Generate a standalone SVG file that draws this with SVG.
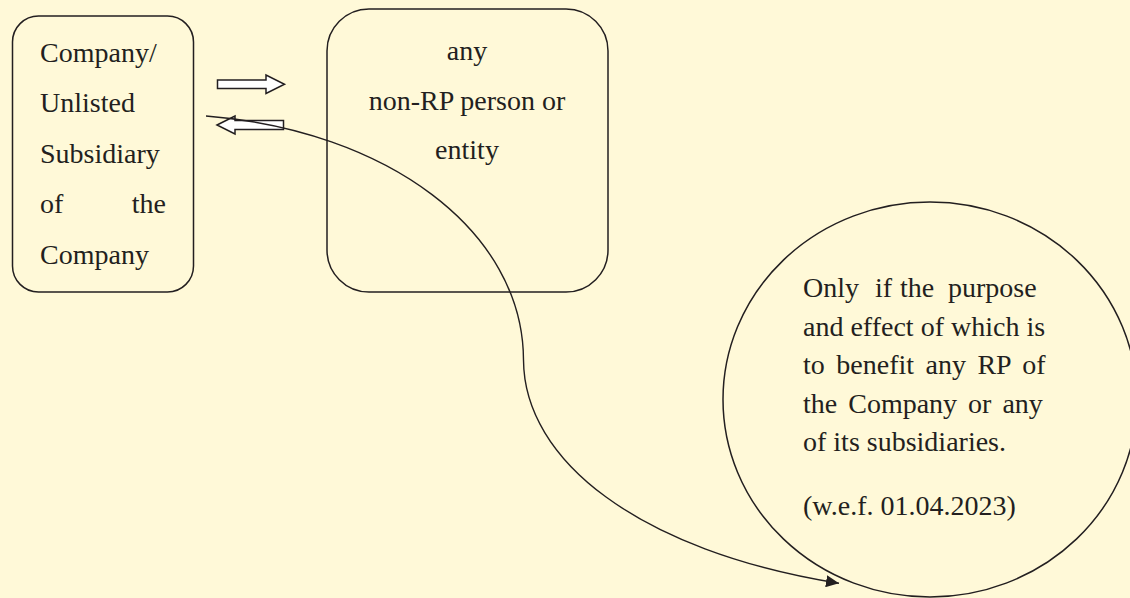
<svg xmlns="http://www.w3.org/2000/svg" width="1130" height="598" viewBox="0 0 1130 598">
  <style>
    .node { fill: none; stroke: #231F20; stroke-width: 1.5; }
    .txt { font-family: "Liberation Serif", "Times New Roman", serif; font-size: 28px; fill: #231F20; }
    .blk { fill: #FFFFFF; stroke: #231F20; stroke-width: 1.5; stroke-linejoin: miter; }
    .conn { fill: none; stroke: #231F20; stroke-width: 1.4; }
  </style>
  <defs>
    <marker id="ah" markerUnits="userSpaceOnUse" markerWidth="14" markerHeight="12" refX="13" refY="6" orient="auto">
      <path d="M0,0 L13,6 L0,12 Z" fill="#231F20"/>
    </marker>
  </defs>
  <rect width="1130" height="598" fill="#FFF9D8"/>

  <g id="company">
    <rect class="node" x="12.5" y="16" width="181" height="276" rx="26"/>
    <text class="txt" x="40" y="62">Company/</text>
    <text class="txt" x="40" y="112">Unlisted</text>
    <text class="txt" x="40" y="163">Subsidiary</text>
    <text class="txt" x="40" y="213">of</text>
    <text class="txt" x="166" y="213" text-anchor="end">the</text>
    <text class="txt" x="40" y="264">Company</text>
  </g>

  <g id="nonrp">
    <rect class="node" x="327" y="9" width="281" height="283" rx="42"/>
    <text class="txt" x="467" y="60" text-anchor="middle">any</text>
    <text class="txt" x="467" y="110" text-anchor="middle">non-RP person or</text>
    <text class="txt" x="467" y="159" text-anchor="middle">entity</text>
  </g>

  <g id="condition">
    <ellipse class="node" cx="930" cy="399.5" rx="207" ry="197.5" stroke-width="1.3"/>
    <text class="txt" y="297"><tspan x="803">Only</tspan><tspan x="875">if</tspan><tspan x="900">the</tspan><tspan x="948">purpose</tspan></text>
    <text class="txt" x="803" y="336">and effect of which is</text>
    <text class="txt" x="803" y="374" word-spacing="4.5">to benefit any RP of</text>
    <text class="txt" x="803" y="413" word-spacing="4">the Company or any</text>
    <text class="txt" x="803" y="451">of its subsidiaries.</text>
    <text class="txt" x="803" y="515">(w.e.f. 01.04.2023)</text>
  </g>

  <g id="connectors">
    <path class="blk" d="M217.5,80 L266,80 L266,75 L284.5,84.25 L266,93.5 L266,88.5 L217.5,88.5 Z"/>
    <path class="blk" d="M217,125 L235,116 L235,120.5 L283.5,120.5 L283.5,129.5 L235,129.5 L235,134 Z"/>
    <path class="conn" marker-end="url(#ah)" d="M206,116 C386,130.4 523,230 523.5,360 C524,460 638,551 839,583.3"/>
  </g>
</svg>
